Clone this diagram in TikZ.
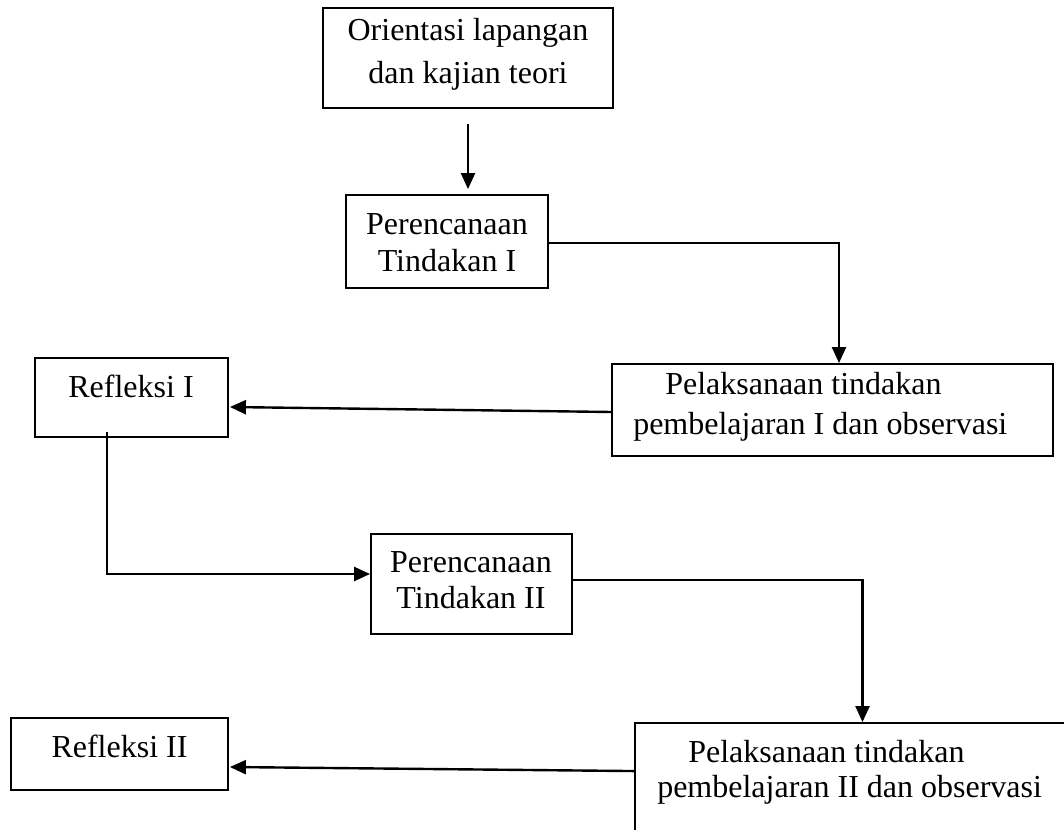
\documentclass[tikz,border=0pt]{standalone}
\usepackage{fontspec}
\setmainfont{Liberation Serif}
\usetikzlibrary{fit,calc,arrows.meta}
\begin{document}
\begin{tikzpicture}[x=0.75pt,y=-0.75pt,
  box/.style={draw, line width=1.4pt, inner sep=0pt, rectangle},
  txt/.style={inner sep=0pt, font=\fontsize{24}{28}\selectfont},
  arr/.style={line width=1.8pt, -{Triangle[length=12pt,width=10.5pt]}}]
\useasboundingbox (0,0) rectangle (1064,830);
\clip (0,0) rectangle (1064,830);
% box corners
\coordinate (b1a) at (323,8);   \coordinate (b1b) at (613,108);
\coordinate (b2a) at (346,195); \coordinate (b2b) at (548,288);
\coordinate (b3a) at (612,364); \coordinate (b3b) at (1053,456);
\coordinate (r1a) at (35,358);  \coordinate (r1b) at (228,437);
\coordinate (b4a) at (371,534); \coordinate (b4b) at (572,634);
\coordinate (b5a) at (635,723); \coordinate (b5b) at (1090,860);
\coordinate (r2a) at (11,718);  \coordinate (r2b) at (228,790);
% boxes
\node[box, fit=(b1a)(b1b)] (b1) {};
\node[box, fit=(b2a)(b2b)] (b2) {};
\node[box, fit=(b3a)(b3b)] (b3) {};
\node[box, fit=(r1a)(r1b)] (r1) {};
\node[box, fit=(b4a)(b4b)] (b4) {};
\node[box, fit=(b5a)(b5b)] (b5) {};
\node[box, fit=(r2a)(r2b)] (r2) {};
% texts
\node[txt, anchor=base] (t1a) at (468,41) {Orientasi lapangan};
\node[txt, anchor=base] (t1b) at (468,84) {dan kajian teori};
\node[txt, anchor=base] (t2a) at (447,235) {Perencanaan};
\node[txt, anchor=base] (t2b) at (447,272) {Tindakan I};
\node[txt, anchor=base west] (t3a) at (665,395) {Pelaksanaan tindakan};
\node[txt, anchor=base west] (t3b) at (633,435) {pembelajaran I dan observasi};
\node[txt, anchor=base] (tr1) at (131,398) {Refleksi I};
\node[txt, anchor=base] (t4a) at (471,572) {Perencanaan};
\node[txt, anchor=base] (t4b) at (471,608) {Tindakan II};
\node[txt, anchor=base west] (t5a) at (688,762) {Pelaksanaan tindakan};
\node[txt, anchor=base west] (t5b) at (657,797) {pembelajaran II dan observasi};
\node[txt, anchor=base] (tr2) at (119.5,757) {Refleksi II};
% connectors
\draw[arr] ($(b1.south)+(0,15)$) -- ($(b2.north)+(21,-5)$);
\draw[arr] ($(b2.east)+(0,1.5)$) -| ($(b3.north)+(6.5,0)$);
\draw[arr] ($(b3.west)+(0,2)$) -- ($(r1.east)+(1,9.5)$);
\draw[arr] ($(r1.south)+(-24.5,-6)$) |- ($(b4.west)+(0,-10)$);
\draw[arr] ($(b4.east)+(0,-4)$) -| (b5.north);
\draw[arr] ($(b5.north west)+(0,49)$) -- ($(r2.east)+(1,13)$);
\end{tikzpicture}
\end{document}
